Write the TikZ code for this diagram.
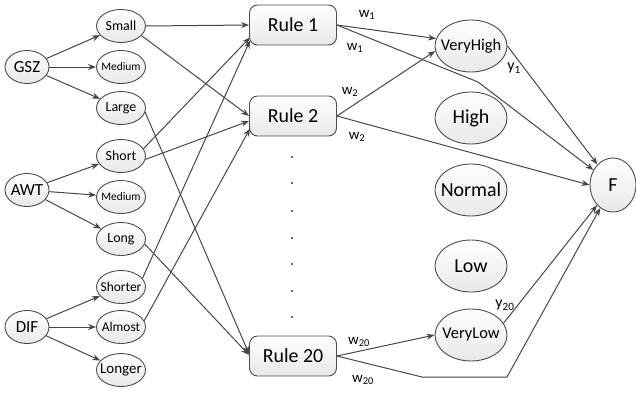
\documentclass[tikz,border=0pt]{standalone}
\usepackage{fontspec}
\setmainfont{Carlito}
\usetikzlibrary{arrows.meta,shapes.geometric}

\begin{document}
\begin{tikzpicture}[x=1bp,y=-1bp,
    arr/.style={-{Stealth[length=8bp,width=6bp]}, draw=black!72, line width=1bp},
    box/.style={draw=black!70, line width=0.9bp, top color=white, bottom color=gray!18,
        inner sep=0pt,
        execute at begin node=\hbox to 0pt\bgroup\hss,
        execute at end node=\hss\egroup},
    inp/.style={box, ellipse, minimum width=44bp, minimum height=33bp, font=\fontsize{17}{17}\selectfont},
    mf/.style={box, ellipse, minimum width=49bp, minimum height=33bp, font=\fontsize{14}{14}\selectfont},
    mfs/.style={mf, font=\fontsize{11.5}{12}\selectfont},
    rule/.style={box, rectangle, rounded corners=8bp, minimum width=87bp, minimum height=40bp, font=\fontsize{20}{20}\selectfont},
    outp/.style={box, ellipse, minimum width=72bp, minimum height=52bp, font=\fontsize{20}{20}\selectfont},
    wt/.style={font=\fontsize{15}{15}\selectfont, inner sep=0pt}]

    \useasboundingbox (0,0) rectangle (636,392);

    % inputs
    \node[inp] (GSZ) at (27,67) {GSZ};
    \node[inp] (AWT) at (27,190) {AWT};
    \node[inp] (DIF) at (27,327) {DIF};

    % membership functions
    \node[mf] (Small) at (121,26) {Small};
    \node[mfs] (MedA) at (121,67) {Medium};
    \node[mf] (Large) at (121,108) {Large};
    \node[mf] (Short) at (121,156) {Short};
    \node[mfs] (MedB) at (121,197) {Medium};
    \node[mf] (Long) at (121,239) {Long};
    \node[mf, font=\fontsize{13.5}{14}\selectfont] (Shorter) at (121,287) {Shorter};
    \node[mf, font=\fontsize{13.5}{14}\selectfont] (Almost) at (121,327) {Almost};
    \node[mf, font=\fontsize{15}{15}\selectfont] (Longer) at (121,370) {Longer};

    \draw[arr] (GSZ) -- (Small);
    \draw[arr] (GSZ) -- (MedA);
    \draw[arr] (GSZ) -- (Large);
    \draw[arr] (AWT) -- (Short);
    \draw[arr] (AWT) -- (MedB);
    \draw[arr] (AWT) -- (Long);
    \draw[arr] (DIF) -- (Shorter);
    \draw[arr] (DIF) -- (Almost);
    \draw[arr] (DIF) -- (Longer);

    % rules
    \node[rule] (r1) at (293,25) {Rule 1};
    \node[rule] (r2) at (293,116) {Rule 2};
    \node[rule] (r20) at (293,356) {Rule 20};
    \foreach \y in {157,183,211,238,264,291,317}
        \fill[black!80] (292,\y) circle (1.1bp);

    \draw[arr] (Small.east) -- (r1.west);
    \draw[arr] (Small.-25) -- (r2.west);
    \draw[arr] (Short.18) -- ([shift={(1bp,8bp)}]r1.south west);
    \draw[arr] (Shorter.22) -- ([shift={(1bp,5bp)}]r1.south west);
    \draw[arr] (Short.-8) -- ([yshift=-5bp]r2.west);
    \draw[arr] (Almost.15) -- ([shift={(1bp,8bp)}]r2.south west);
    \draw[arr] (Large.-10) -- ([yshift=2bp]r20.west);
    \draw[arr] (Long.-12) -- ([yshift=1bp]r20.west);

    % output sets
    \node[outp, font=\fontsize{16.5}{17}\selectfont] (VH) at (471,46) {VeryHigh};
    \node[outp] (High) at (471,118) {High};
    \node[outp] (Normal) at (471,190) {Normal};
    \node[outp] (Low) at (471,266) {Low};
    \node[outp, font=\fontsize{16.5}{17}\selectfont] (VL) at (471,335) {VeryLow};
    \node[box, ellipse, minimum width=46bp, minimum height=54bp, font=\fontsize{20}{20}\selectfont] (F) at (613,185) {F};

    \coordinate (b1) at (478,82);
    \coordinate (b2) at (422,377);
    \coordinate (b3) at (507,377);

    \draw[arr] (r1.east) -- (VH.168);
    \draw[arr] (r1.east) -- (b1) -- (F);
    \draw[arr] (r2.east) -- (VH.188);
    \draw[arr] (r2.east) -- (F.west);
    \draw[arr] (r20.east) -- (VL.west);
    \draw[arr] (r20.east) -- (b2) -- (b3) -- (F);
    \draw[arr] (VH.east) -- (F);
    \draw[arr] (VL.20) -- (F);

    % weights
    \node[wt] (w1a) at (367,15) {w\textsubscript{1}};
    \node[wt] (w1b) at (355,48) {w\textsubscript{1}};
    \node[wt] (w2a) at (350,92) {w\textsubscript{2}};
    \node[wt] (w2b) at (357,137) {w\textsubscript{2}};
    \node[wt] (w20a) at (359,342) {w\textsubscript{20}};
    \node[wt] (w20b) at (363,380) {w\textsubscript{20}};
    \node[wt, font=\fontsize{16}{16}\selectfont] (y1) at (514,68) {y\textsubscript{1}};
    \node[wt, font=\fontsize{16}{16}\selectfont] (y20) at (505,305) {y\textsubscript{20}};
\end{tikzpicture}
\end{document}
